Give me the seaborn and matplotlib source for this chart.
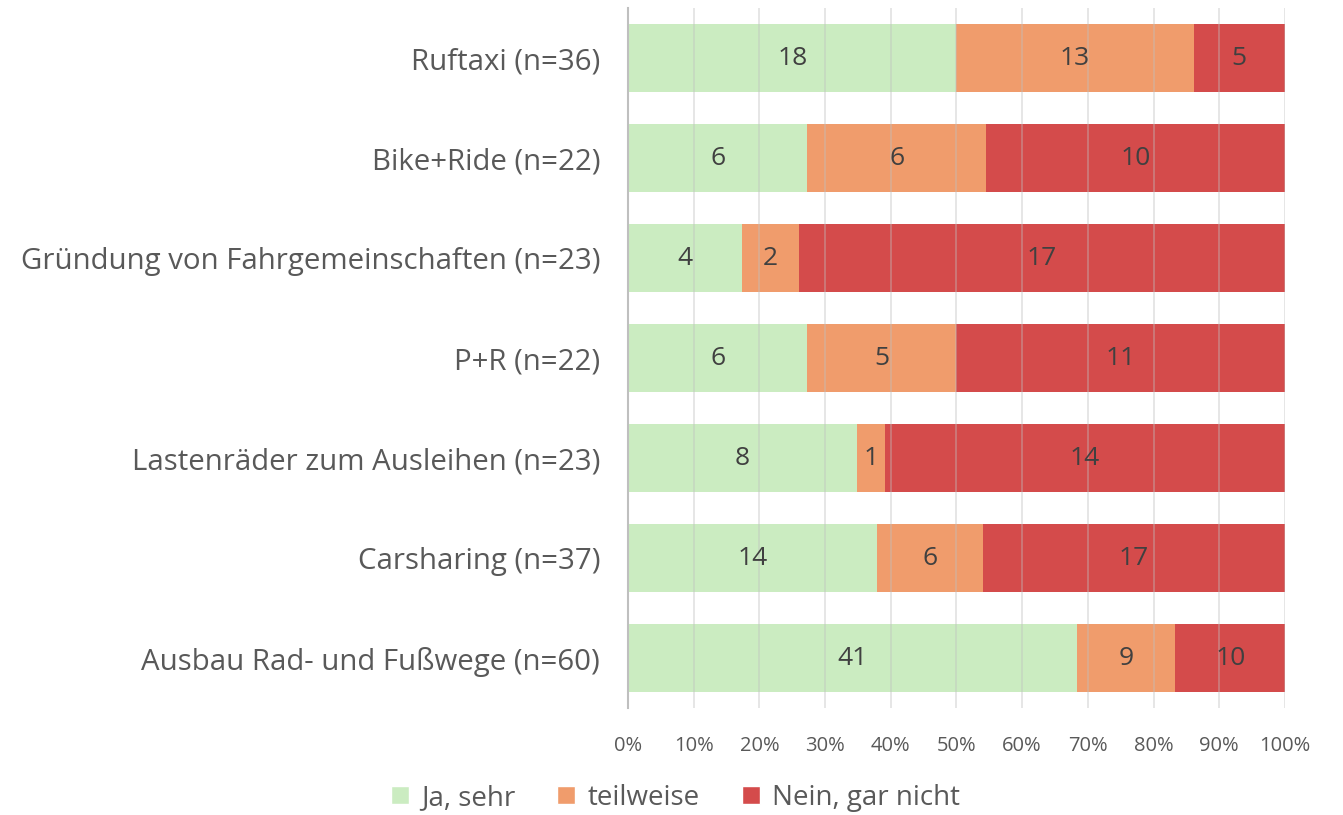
import matplotlib.pyplot as plt
import pandas as pd
import seaborn as sns
import numpy as np
from matplotlib.patches import Patch

# data (counts per answer)
categories = ['Ruftaxi (n=36)', 'Bike+Ride (n=22)', 'Gründung von Fahrgemeinschaften (n=23)',
              'P+R (n=22)', 'Lastenräder zum Ausleihen (n=23)', 'Carsharing (n=37)',
              'Ausbau Rad- und Fußwege (n=60)']
ja_sehr = [18, 6, 4, 6, 8, 14, 41]
teilweise = [13, 6, 2, 5, 1, 6, 9]
nein = [5, 10, 17, 11, 14, 17, 10]
series_names = ['Ja, sehr', 'teilweise', 'Nein, gar nicht']
colors = ['#CBECC1', '#F09C6C', '#D44B4B']

df = pd.DataFrame({'cat': categories, 'ja': ja_sehr, 'teil': teilweise, 'nein': nein})
df['total'] = df.ja + df.teil + df.nein
df['p_ja'] = df.ja / df.total * 100
df['p_teil'] = df.teil / df.total * 100
df['p_nein'] = df.nein / df.total * 100
df['c1'] = df.p_ja
df['c2'] = df.p_ja + df.p_teil
df['c3'] = df.c2 + df.p_nein

sns.set_style('white')
plt.rcParams['font.family'] = ['Open Sans', 'DejaVu Sans']

fig = plt.figure(figsize=(13.43, 8.15), dpi=100)
ax = fig.add_axes([0.4676, 0.131, 0.4892, 0.859])

# stacked bars by overlaying cumulative sums, widest first
for col, c in zip(['c3', 'c2', 'c1'], colors[::-1]):
    sns.barplot(data=df, x=col, y='cat', order=categories, color=c, orient='h',
                width=0.68, ax=ax, saturation=1, zorder=2, linewidth=0, edgecolor='none')

# labels in the middle of each segment
for i, row in df.iterrows():
    starts = [0, row.c1, row.c2]
    widths = [row.p_ja, row.p_teil, row.p_nein]
    vals = [row.ja, row.teil, row.nein]
    for s, w, v in zip(starts, widths, vals):
        ax.text(s + w / 2, i, str(v), ha='center', va='center', fontsize=19, color='#404040', zorder=4)

ax.set_xlim(0, 100)
ax.set_ylim(6.5, -0.5)
ax.set_xticks(np.arange(0, 101, 10))
ax.set_xticklabels([f'{t}%' for t in range(0, 101, 10)], fontsize=14.5, color='#595959')
ax.tick_params(axis='y', labelsize=21.2, labelcolor='#595959', length=0, pad=20)
ax.tick_params(axis='x', length=0, pad=20)
ax.set_xlabel('')
ax.set_ylabel('')

# vertical grid drawn above bars, faint
ax.grid(False)
for t in range(10, 101, 10):
    ax.axvline(t, color='#BFBFBF', lw=1.2, alpha=0.45, zorder=3)
for s in ['top', 'right', 'bottom']:
    ax.spines[s].set_visible(False)
ax.spines['left'].set_color('#BFBFBF')
ax.spines['left'].set_linewidth(1.5)
ax.spines['left'].set_zorder(3)

handles = [Patch(facecolor=c, label=n) for c, n in zip(colors, series_names)]
fig.legend(handles=handles, loc='center', bbox_to_anchor=(0.503, 0.021), ncol=3, frameon=False,
           fontsize=20, labelcolor='#595959', handlelength=0.65, handleheight=0.65,
           columnspacing=1.5, handletextpad=0.45)

fig.savefig('out.png', dpi=100)
